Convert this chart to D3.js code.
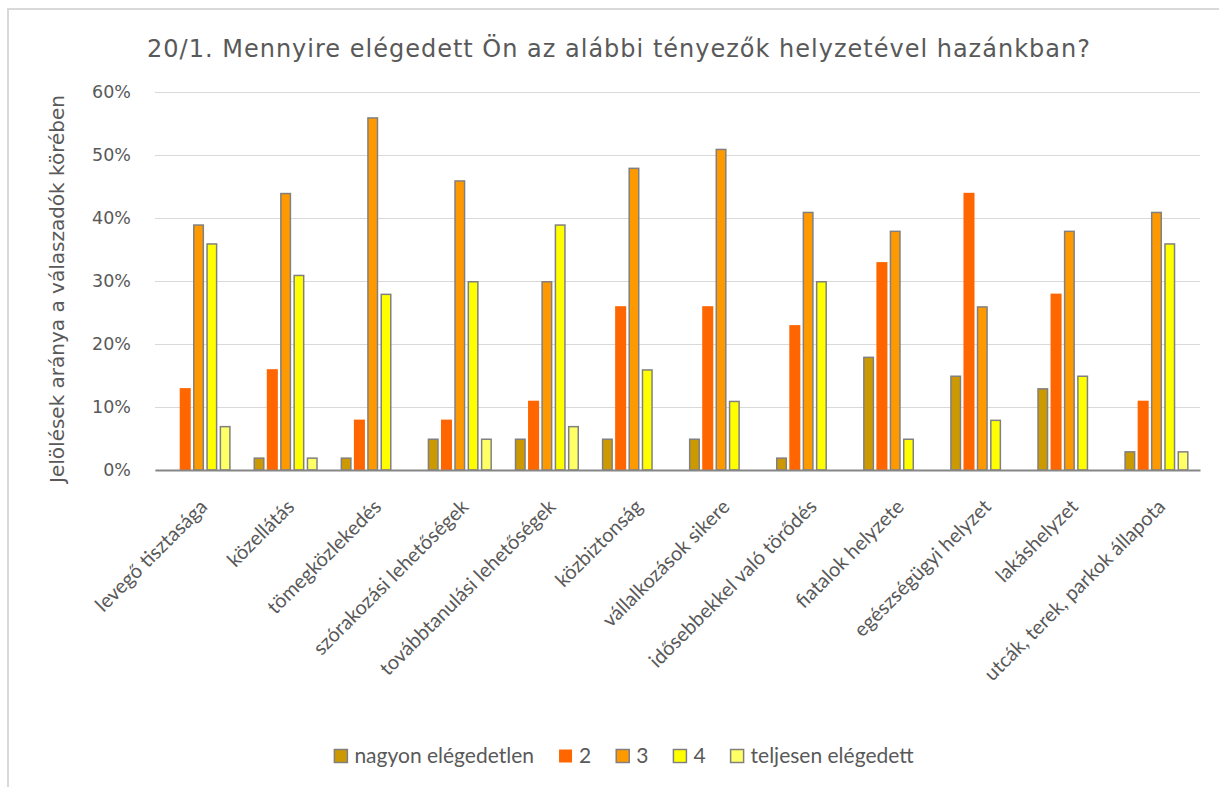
<!DOCTYPE html>
<html>
<head>
<meta charset="utf-8">
<script src="https://cdn.jsdelivr.net/npm/d3@7"></script>
<style>
  body { margin: 0; background: #ffffff; }
  svg { display: block; }
</style>
</head>
<body>
<svg id="chart" width="1219" height="787"></svg>
<script>
// Survey question 20/1 – satisfaction with local factors (share of responses)
const categories = [
  "levegő tisztasága",
  "közellátás",
  "tömegközlekedés",
  "szórakozási lehetőségek",
  "továbbtanulási lehetőségek",
  "közbiztonság",
  "vállalkozások sikere",
  "idősebbekkel való törődés",
  "fiatalok helyzete",
  "egészségügyi helyzet",
  "lakáshelyzet",
  "utcák, terek, parkok állapota"
];

const seriesNames = ["nagyon elégedetlen", "2", "3", "4", "teljesen elégedett"];

// percentages per category
const nagyonElegedetlen = [0, 2, 2, 5, 5, 5, 5, 2, 18, 15, 13, 3];
const ertek2            = [13, 16, 8, 8, 11, 26, 26, 23, 33, 44, 28, 11];
const ertek3            = [39, 44, 56, 46, 30, 48, 51, 41, 38, 26, 38, 41];
const ertek4            = [36, 31, 28, 30, 39, 16, 11, 30, 5, 8, 15, 36];
const teljesenElegedett = [7, 2, 0, 5, 7, 0, 0, 0, 0, 0, 0, 3];

const yTicks = [0, 10, 20, 30, 40, 50, 60];

const titleText = "20/1. Mennyire elégedett Ön az alábbi tényezők helyzetével hazánkban?";
const yAxisTitle = "Jelölések aránya a válaszadók körében";

const seriesValues = [nagyonElegedetlen, ertek2, ertek3, ertek4, teljesenElegedett];
const seriesFill = ["#cc9900", "#ff6600", "#ff9900", "#ffff00", "#ffff66"];
const seriesStroke = ["#808080", null, "#808080", "#808080", "#808080"];

const svg = d3.select("#chart");
const W = 1219, H = 787;
const plot = { left: 155, right: 1200, top: 92, bottom: 470 };
const textGrey = "#595959";

svg.append("rect").attr("width", W).attr("height", H).attr("fill", "#ffffff");

// chart frame (continues past the right and bottom edges)
svg.append("rect")
  .attr("x", 8).attr("y", 9)
  .attr("width", W + 20).attr("height", H + 20)
  .attr("fill", "none")
  .attr("stroke", "#d9d9d9")
  .attr("stroke-width", 2);

const x0 = d3.scaleBand()
  .domain(categories)
  .range([plot.left, plot.right])
  .paddingInner(0).paddingOuter(0);

const slot = 13.3;
const x1 = d3.scaleBand()
  .domain(seriesNames)
  .range([-slot * 2.5, slot * 2.5])
  .paddingInner(0.17)
  .paddingOuter(0.085);

const y = d3.scaleLinear().domain([0, 60]).range([plot.bottom, plot.top]);

// gridlines + tick labels
const yAxis = d3.axisLeft(y)
  .tickValues(yTicks)
  .tickSize(-(plot.right - plot.left))
  .tickPadding(24)
  .tickFormat(d => d + "%");

const gy = svg.append("g")
  .attr("transform", `translate(${plot.left},0)`)
  .call(yAxis);
gy.select(".domain").remove();
gy.selectAll(".tick line")
  .attr("stroke", "#d9d9d9")
  .attr("stroke-width", 1.4)
  .attr("shape-rendering", "crispEdges");
gy.selectAll(".tick text")
  .attr("fill", textGrey)
  .attr("font-family", "'DejaVu Sans', Verdana, sans-serif")
  .attr("font-size", 17.5);

// bars
const rows = categories.map((c, i) => ({
  cat: c,
  vals: seriesNames.map((s, k) => ({ s, k, v: seriesValues[k][i] }))
}));

const groups = svg.append("g").selectAll("g")
  .data(rows)
  .join("g")
  .attr("transform", d => `translate(${x0(d.cat) + x0.bandwidth() / 2},0)`);

groups.selectAll("rect")
  .data(d => d.vals.filter(e => e.v > 0))
  .join("rect")
  .each(function (e) {
    const bw = x1.bandwidth();
    const stroked = seriesStroke[e.k] !== null;
    const inset = stroked ? 0.75 : 0;
    d3.select(this)
      .attr("x", x1(e.s) + inset)
      .attr("y", y(e.v) + inset)
      .attr("width", bw - 2 * inset)
      .attr("height", Math.max(0, y(0) - y(e.v) - inset))
      .attr("fill", seriesFill[e.k])
      .attr("stroke", stroked ? seriesStroke[e.k] : "none")
      .attr("stroke-width", stroked ? 1.5 : 0);
  });

// category axis line
const xAxis = d3.axisBottom(x0).tickSize(0).tickFormat("");
const gx = svg.append("g")
  .attr("transform", `translate(0,${plot.bottom})`)
  .call(xAxis);
gx.select(".domain")
  .attr("stroke", "#868686")
  .attr("stroke-width", 2);

// rotated category labels
svg.append("g").selectAll("text")
  .data(categories)
  .join("text")
  .attr("transform", d => `translate(${x0(d) + x0.bandwidth() / 2 + 10},${plot.bottom + 38}) rotate(-45)`)
  .attr("text-anchor", "end")
  .attr("fill", textGrey)
  .attr("font-family", "Lato, 'Open Sans', sans-serif")
  .attr("font-size", 20)
  .text(d => d);

// title
svg.append("text")
  .attr("x", 619).attr("y", 57)
  .attr("text-anchor", "middle")
  .attr("fill", textGrey)
  .attr("font-family", "'DejaVu Sans', Verdana, sans-serif")
  .attr("font-size", 24)
  .attr("letter-spacing", 1)
  .text(titleText);

// y axis title
svg.append("text")
  .attr("transform", `translate(64,${(plot.top + plot.bottom) / 2 + 8}) rotate(-90)`)
  .attr("text-anchor", "middle")
  .attr("fill", textGrey)
  .attr("font-family", "'DejaVu Sans', Verdana, sans-serif")
  .attr("font-size", 20)
  .text(yAxisTitle);

// legend
const legend = svg.append("g");
const legendY = 756;
const sw = 13, swGap = 7, itemGap = 25;
const items = legend.selectAll("g")
  .data(seriesNames)
  .join("g");
items.append("rect")
  .attr("width", sw).attr("height", sw)
  .attr("y", legendY - sw / 2)
  .attr("fill", (d, k) => seriesFill[k])
  .attr("stroke", (d, k) => seriesStroke[k] || "none")
  .attr("stroke-width", 1.5);
items.append("text")
  .attr("x", sw + swGap)
  .attr("y", legendY)
  .attr("dy", "0.35em")
  .attr("fill", textGrey)
  .attr("font-family", "Lato, 'Open Sans', sans-serif")
  .attr("font-size", 21)
  .text(d => d);

let cursor = 0;
const offsets = [];
items.each(function () {
  offsets.push(cursor);
  const tw = d3.select(this).select("text").node().getComputedTextLength();
  cursor += sw + swGap + tw + itemGap;
});
const total = cursor - itemGap;
const legendLeft = 624 - total / 2;
items.attr("transform", (d, i) => `translate(${legendLeft + offsets[i]},0)`);
</script>
</body>
</html>
